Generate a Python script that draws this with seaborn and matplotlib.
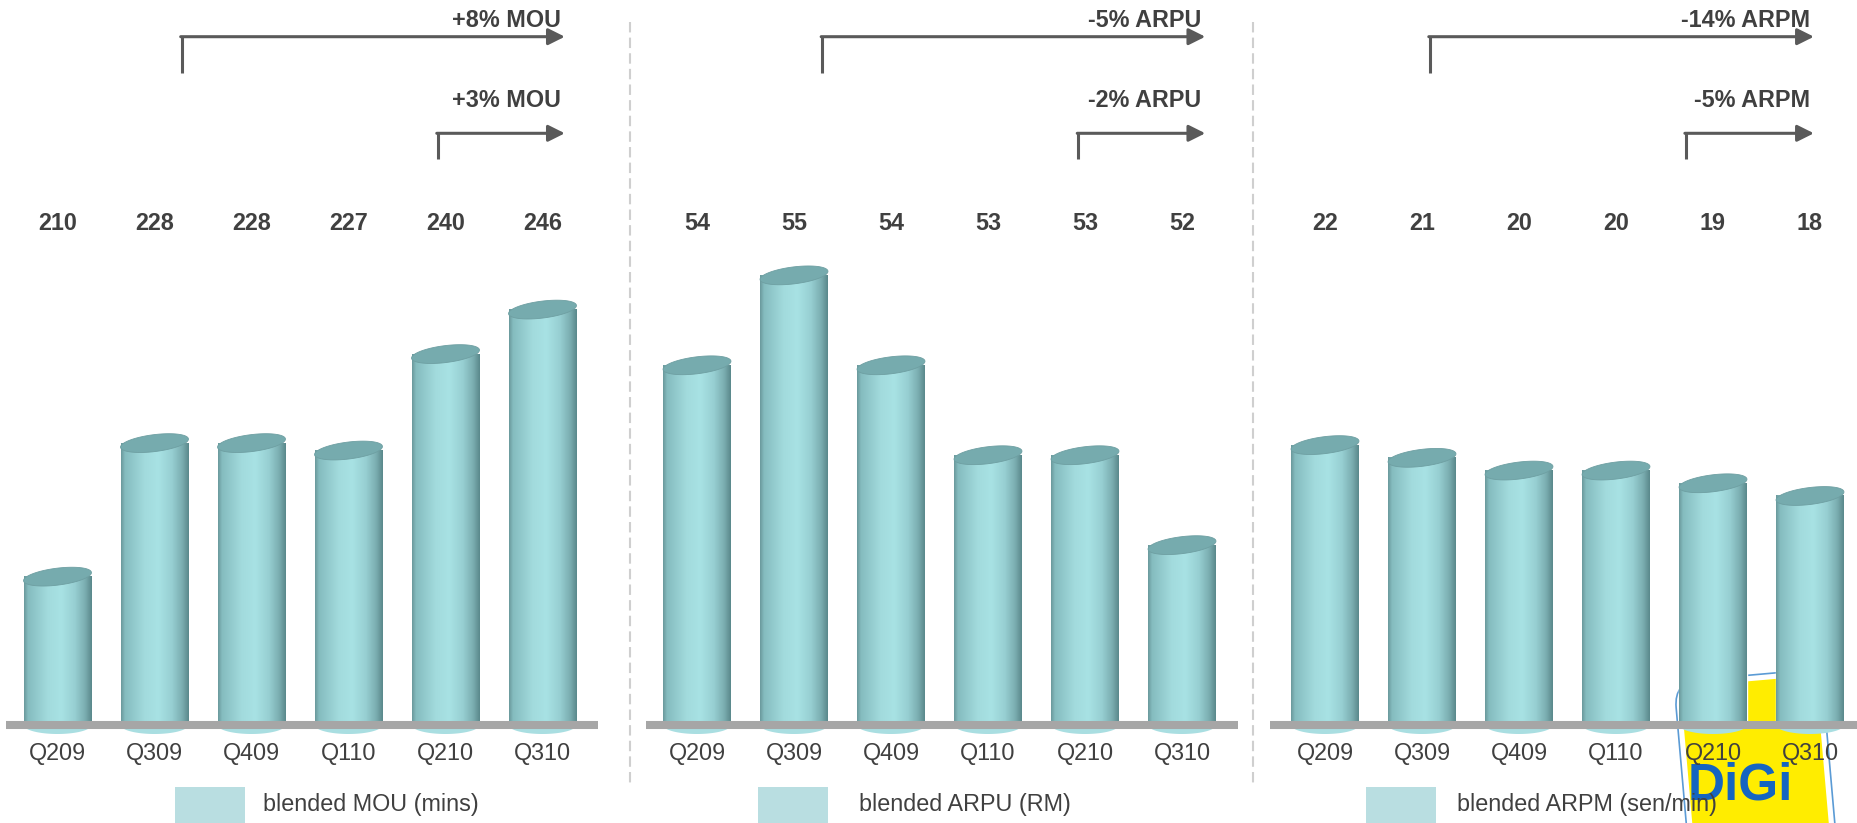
import numpy as np
import pandas as pd
import matplotlib
matplotlib.use("Agg")
import matplotlib.pyplot as plt
import matplotlib.transforms as mtransforms
from matplotlib.colors import LinearSegmentedColormap
from matplotlib.patches import Polygon, Rectangle, FancyBboxPatch
from matplotlib.lines import Line2D
import seaborn as sns

# ---- data -------------------------------------------------------------
quarters = ["Q209", "Q309", "Q409", "Q110", "Q210", "Q310"]
mou_values = [210, 228, 228, 227, 240, 246]
arpu_values = [54, 55, 54, 53, 53, 52]
arpm_values = [22, 21, 20, 20, 19, 18]
series_names = ["blended MOU (mins)", "blended ARPU (RM)", "blended ARPM (sen/min)"]
long_change_labels = ["+8% MOU", "-5% ARPU", "-14% ARPM"]
short_change_labels = ["+3% MOU", "-2% ARPU", "-5% ARPM"]

# ---- style ------------------------------------------------------------
sns.set_theme(style="white")
plt.rcParams["font.family"] = ["Liberation Sans", "DejaVu Sans"]

W, H = 1858, 823
AX_TOP, AX_BOTTOM = 225, 725          # pixel rows of the plotting band
SLOT = 97.0                            # pixel distance between bars
TEXT = "#404040"
ARROW = "#5A5A5A"
FS = 16.8

cyl_cmap = LinearSegmentedColormap.from_list(
    "cyl",
    [(0.0, "#6A999C"), (0.06, "#85BCBF"), (0.35, "#A2DBDD"),
     (0.55, "#A8E2E4"), (0.75, "#97CFD2"), (0.9, "#7BAEB1"), (1.0, "#5A888B")])
TOP_COLOR = "#76ABAE"
BOTTOM_COLOR = "#A9DEE1"
LEGEND_COLOR = "#B9DEE1"

panels = [
    dict(values=mou_values, ylim=(190.0, 257.4), left=6, right=598, c0=57.5,
         long_x=1.28, short_x=3.92, tip=5.23, text_x=5.19, box=175, label=263),
    dict(values=arpu_values, ylim=(50.0, 55.56), left=646, right=1238, c0=697,
         long_x=1.29, short_x=3.93, tip=5.24, text_x=5.20, box=758, label=859),
    dict(values=arpm_values, ylim=(0.0, 39.3), left=1270, right=1862, c0=1325,
         long_x=1.08, short_x=3.72, tip=5.04, text_x=5.00, box=1366, label=1457),
]

fig = plt.figure(figsize=(W / 100, H / 100), dpi=100)
fig.patch.set_facecolor("white")


def fy(ypx):
    """pixel row -> axes fraction of the plotting band"""
    return (AX_BOTTOM - ypx) / (AX_BOTTOM - AX_TOP)


# ---- DiGi badge behind the last panel --------------------------------
badge_tr = (mtransforms.Affine2D().rotate_deg_around(1755, H - 760, 5)
            + mtransforms.Affine2D().scale(1 / W, 1 / H) + fig.transFigure)
fig.add_artist(FancyBboxPatch((1681, H - 880), 148, 205,
                              boxstyle="round,pad=0,rounding_size=26",
                              transform=badge_tr, facecolor="white",
                              edgecolor="#5B9BD5", lw=1.2, zorder=-3))
fig.add_artist(FancyBboxPatch((1687, H - 880), 136, 199,
                              boxstyle="round,pad=0,rounding_size=22",
                              transform=badge_tr, facecolor="#FFED00",
                              edgecolor="none", zorder=-2))
fig.text(1740 / W, 1 - 800 / H, "DiGi", color="#1565C0", fontsize=37,
         fontweight="bold", ha="center", va="baseline", zorder=-1)

# ---- panels -----------------------------------------------------------
t = np.linspace(0, 2 * np.pi, 120)
grad = np.linspace(0, 1, 256)[None, :]

for i, p in enumerate(panels):
    ax = fig.add_axes([p["left"] / W, 1 - AX_BOTTOM / H,
                       (p["right"] - p["left"]) / W, (AX_BOTTOM - AX_TOP) / H])
    ax.set_facecolor("none")
    df = pd.DataFrame({"quarter": quarters, "value": p["values"]})
    sns.barplot(data=df, x="quarter", y="value", ax=ax, color="#A8E2E4",
                saturation=1, width=0.70, zorder=2)

    y0, y1 = p["ylim"]
    ppu = (AX_BOTTOM - AX_TOP) / (y1 - y0)
    for patch, val in zip(ax.patches, p["values"]):
        x0, w = patch.get_x(), patch.get_width()
        cx = x0 + w / 2
        # shaded cylinder body
        ax.imshow(grad, cmap=cyl_cmap, extent=(x0, x0 + w, y0, val),
                  aspect="auto", interpolation="bilinear", zorder=3)
        # bottom cap peeking below the floor line
        ax.add_patch(Polygon(np.column_stack([cx + w / 2 * np.cos(t),
                                              y0 + 9 / ppu * np.sin(t)]),
                             closed=True, facecolor=BOTTOM_COLOR,
                             edgecolor="none", clip_on=False, zorder=2.5))
        # top cap
        ax.add_patch(Polygon(np.column_stack([cx + w / 2 * np.cos(t),
                                              val + 8.5 / ppu * np.sin(t)
                                              + 4 / ppu * np.cos(t)]),
                             closed=True, facecolor=TOP_COLOR,
                             edgecolor="#6E9FA2", lw=0.6, clip_on=False,
                             zorder=4))
        ax.text(cx, fy(230), f"{val}", transform=mtransforms.blended_transform_factory(
            ax.transData, ax.transAxes), ha="center", va="baseline",
            fontsize=FS, fontweight="bold", color=TEXT)

    ax.set_xlim((p["left"] - p["c0"]) / SLOT, (p["right"] - p["c0"]) / SLOT)
    ax.set_ylim(y0, y1)
    ax.set_yticks([])
    ax.set_xlabel("")
    ax.set_ylabel("")
    for s in ax.spines.values():
        s.set_visible(False)
    ax.tick_params(axis="x", length=0, pad=12.2, labelsize=FS, labelcolor=TEXT)

    # floor line
    ax.plot([0, 1], [0, 0], transform=ax.transAxes, color="#A6A6A6", lw=5.8,
            solid_capstyle="butt", clip_on=False, zorder=6)

    # growth arrows
    bl = mtransforms.blended_transform_factory(ax.transData, ax.transAxes)
    for xs, y_arrow, y_foot, y_text, lab in [
            (p["long_x"], 36.7, 72.7, 27, long_change_labels[i]),
            (p["short_x"], 133.3, 159.3, 107, short_change_labels[i])]:
        ax.plot([xs, xs], [fy(y_foot), fy(y_arrow - 1.0)], transform=bl,
                color=ARROW, lw=2.2, solid_capstyle="butt", clip_on=False)
        ax.annotate("", xy=(p["tip"], fy(y_arrow)), xycoords=bl,
                    xytext=(xs - 0.01, fy(y_arrow)), textcoords=bl,
                    arrowprops=dict(arrowstyle="-|>", color=ARROW, lw=2.2,
                                    shrinkA=0, shrinkB=0, mutation_scale=25),
                    annotation_clip=False)
        ax.text(p["text_x"], fy(y_text), lab, transform=bl, ha="right",
                va="baseline", fontsize=FS, fontweight="bold", color=TEXT)

    # legend swatch and text
    fig.add_artist(Rectangle((p["box"] / W, 1 - 830 / H), 70 / W, 43 / H,
                             transform=fig.transFigure, facecolor=LEGEND_COLOR,
                             edgecolor="none", zorder=5))
    fig.text(p["label"] / W, 1 - 804 / H, series_names[i], fontsize=FS,
             color=TEXT, va="center", ha="left", zorder=6)

# dashed separators between panels
for xs in (630, 1253):
    fig.add_artist(Line2D([xs / W, xs / W], [1 - 22 / H, 1 - 785 / H],
                          transform=fig.transFigure, color="#CFCFCF", lw=1.5,
                          linestyle=(0, (5, 2.5)), zorder=1))

fig.savefig("out.png", dpi=100, facecolor="white")
